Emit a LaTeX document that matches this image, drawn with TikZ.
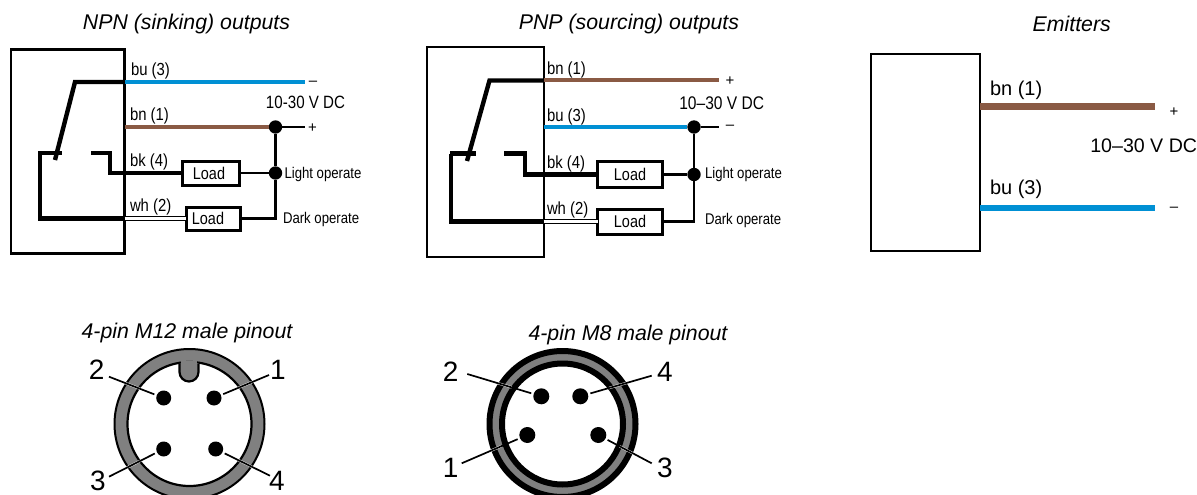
\documentclass[tikz,border=0pt]{standalone}
\usepackage{fontspec}
\usetikzlibrary{calc}
\setmainfont{Liberation Sans}
\newfontfamily\condfont{Liberation Sans}[FakeStretch=0.85]
\newcommand{\pxsize}[1]{\fontsize{#1}{#1}\selectfont}
\definecolor{wireblue}{HTML}{0090D4}
\definecolor{wirebrown}{HTML}{8A5A44}
\definecolor{ringgray}{HTML}{808080}
\tikzset{
  every node/.style={inner sep=0pt,outer sep=0pt},
  housing/.style={draw=black,line width=2.4pt,fill=none,anchor=north west},
  loadbox/.style={draw=black,line width=3pt,fill=white,font=\condfont\pxsize{17},minimum height=24pt},
  junction/.style={circle,fill=black,minimum size=13.4pt},
  pin/.style={circle,fill=black,minimum size=15pt},
  title/.style={font=\pxsize{21.3}\itshape},
  wirelabel/.style={font=\condfont\pxsize{17.5},anchor=west},
  smalllabel/.style={font=\condfont\pxsize{15.5},anchor=west},
  supply/.style={font=\condfont\pxsize{17.8}},
  sign/.style={font=\pxsize{15}},
  emlabel/.style={font=\pxsize{20},anchor=west},
  digit/.style={font=\pxsize{28}},
  blackwire/.style={draw=black,line width=4.4pt,line join=miter},
  thinwire/.style={draw=black,line width=2.2pt},
  bluewire/.style={draw=wireblue,line width=4pt},
  brownwire/.style={draw=wirebrown,line width=4pt},
  whitewire/.style={draw=black,double=white,line width=1pt,double distance=3.4pt},
  halo/.style={draw=white,line width=2.4pt,yshift=1.5pt},
  leader/.style={draw=black,line width=1.7pt},
}
\begin{document}
\begin{tikzpicture}[x=1pt,y=-1pt]
\useasboundingbox (0,0) rectangle (1197,495);
\clip (0,0) rectangle (1197,495);

%% NPN
\node[title] (t1) at (186.5,24) {NPN (sinking) outputs};
\node[housing,minimum width=113.5pt,minimum height=204pt] (b1) at (11,49.5) {};
\coordinate (a1) at (124.5,82);
\coordinate (a2) at (305,82);
\coordinate (a3) at (75,82);
\coordinate (a4) at (55,160);
\coordinate (a5) at (38,153);
\coordinate (a6) at (62,153);
\coordinate (a7) at (40,153);
\coordinate (a8) at (124.5,218.5);
\coordinate (a9) at (91,153);
\coordinate (a10) at (110,173);
\coordinate (a11) at (124.5,127);
\coordinate (a12) at (305,127);
\node[loadbox,minimum width=57.5pt] (l1) at (211,173) {\hspace*{-4pt}Load};
\node[loadbox,minimum width=54pt,minimum height=23pt] (l2) at (213,218.5) {\hspace*{-10pt}Load};
\node[junction] (j1) at (275.5,127) {};
\node[junction] (j2) at (275.5,173) {};
\draw[bluewire] (a1) -- (a2);
\draw[blackwire] (a4) -- (a3) -- (a1);
\draw[blackwire] (a5) -- (a6);
\draw[blackwire] (a7) |- (a8);
\draw[blackwire] (a9) -| (a10) -- (l1.west);
\draw[whitewire] (a8) -- (l2.west);
\draw[brownwire] (a11) -- (j1);
\draw[thinwire] (j1) -- (a12);
\draw[thinwire] (l1.east) -- (j2);
\draw[thinwire] (j1) -- (j2) |- (l2.east);
\node[wirelabel] (n1) at (131,71) {bu (3)};
\node[wirelabel] (n2) at (130,116) {bn (1)};
\node[wirelabel] (n3) at (130,162) {bk (4)};
\node[wirelabel] (n4) at (130,207) {wh (2)};
\node[sign] (n5) at (313,83) {–};
\node[sign] (n6) at (312.5,128) {+};
\node[supply] (n7) at (305.5,102) {10-30 V DC};
\node[smalllabel] (n8) at (284.5,174) {Light operate};
\node[smalllabel] (n9) at (283,219) {Dark operate};

%% PNP
\node[title] (t2) at (629,24) {PNP (sourcing) outputs};
\node[housing,minimum width=116.7pt,minimum height=210pt] (b2) at (427,47) {};
\coordinate (c1) at (543.7,80.5);
\coordinate (c2) at (719,80.5);
\coordinate (c3) at (489.5,80.5);
\coordinate (c4) at (467,161);
\coordinate (c5) at (450,153.5);
\coordinate (c6) at (475.5,153.5);
\coordinate (c7) at (451,153.5);
\coordinate (c8) at (543.7,221.5);
\coordinate (c9) at (504,153.5);
\coordinate (c10) at (525,174.5);
\coordinate (c11) at (543.7,127);
\coordinate (c12) at (719,127);
\node[loadbox,minimum width=65pt,minimum height=26pt] (l3) at (630,174.5) {Load};
\node[loadbox,minimum width=65pt,minimum height=25pt] (l4) at (630,221.5) {Load};
\node[junction] (j3) at (694,127) {};
\node[junction] (j4) at (694,174.5) {};
\draw[brownwire] (c1) -- (c2);
\draw[blackwire] (c4) -- (c3) -- (c1);
\draw[blackwire] (c5) -- (c6);
\draw[blackwire] (c7) |- (c8);
\draw[blackwire] (c9) -| (c10) -- (l3.west);
\draw[whitewire] (c8) -- (l4.west);
\draw[bluewire] (c11) -- (j3);
\draw[thinwire] (j3) -- (c12);
\draw[thinwire] (l3.east) -- (j4);
\draw[thinwire] (j3) -- (j4) |- (l4.east);
\node[wirelabel] (m1) at (547,70) {bn (1)};
\node[wirelabel] (m2) at (547,117) {bu (3)};
\node[wirelabel] (m3) at (547,164) {bk (4)};
\node[wirelabel] (m4) at (547,210) {wh (2)};
\node[sign] (m5) at (730,81) {+};
\node[sign] (m6) at (730,127.5) {–};
\node[supply,font=\condfont\pxsize{18.3}] (m7) at (721.7,103) {10–30 V DC};
\node[smalllabel] (m8) at (705,174) {Light operate};
\node[smalllabel] (m9) at (705,220) {Dark operate};

%% Emitters
\node[title] (t3) at (1071.7,24) {Emitters};
\node[housing,minimum width=109pt,minimum height=197pt] (b3) at (871,54) {};
\coordinate (e1) at (980,106.5);
\coordinate (e2) at (1155,106.5);
\coordinate (e3) at (980,208);
\coordinate (e4) at (1155,208);
\draw[draw=wirebrown,line width=6.5pt] (e1) -- (e2);
\draw[draw=wireblue,line width=6.5pt] (e3) -- (e4);
\node[emlabel] (p1) at (990,90) {bn (1)};
\node[emlabel] (p2) at (990,189) {bu (3)};
\node[sign] (p3) at (1174,112) {+};
\node[sign] (p4) at (1174,209) {–};
\node[font=\pxsize{19.6}] (p5) at (1143.7,146) {10–30 V DC};

%% M12
\node[title] (t4) at (187,333) {4-pin M12 male pinout};
\node[circle,draw=black,line width=2pt,fill=ringgray,minimum size=150pt] (r1) at (189.5,424) {};
\node[circle,draw=black,line width=2.2pt,fill=white,minimum size=124pt] (r2) at (189.5,424) {};
\draw[black,line width=2.2pt,fill=ringgray] (179.5,363.5) -- (179.5,372) arc[start angle=180,end angle=360,radius=9.5pt] -- (198.5,363.5);
\fill[ringgray] (180.6,361) rectangle (197.4,366);
\node[pin] (q2) at (163.7,398) {};
\node[pin] (q1) at (214,398) {};
\node[pin] (q3) at (163.7,449) {};
\node[pin] (q4) at (215.7,449) {};
\node[digit] (d2) at (96.7,370) {2};
\node[digit] (d1) at (278,370) {1};
\node[digit] (d3) at (98,480.5) {3};
\node[digit] (d4) at (277,480.5) {4};
\coordinate (k2) at (109,376.7);
\coordinate (k1) at (269,375);
\coordinate (k3) at (109,476.7);
\coordinate (k4) at (270,475.7);
\foreach \f/\t in {k2/q2,k1/q1,k3/q3,k4/q4}{
  \draw[halo] ($(\f)!0.25!(\t)$) -- ($(\f)!0.7!(\t)$);
  \draw[leader,shorten >=2.5pt] (\f) -- (\t);
}

%% M8
\node[title] (t5) at (628,335) {4-pin M8 male pinout};
\node[circle,draw=black,line width=6pt,fill=ringgray,minimum size=146pt] (s1) at (562.5,424) {};
\node[circle,draw=black,line width=6pt,fill=white,minimum size=121pt] (s2) at (562.5,424) {};
\node[pin,minimum size=16pt] (u2) at (541.3,396.3) {};
\node[pin,minimum size=16pt] (u4) at (580.3,396.3) {};
\node[pin,minimum size=16pt] (u1) at (527.3,435) {};
\node[pin,minimum size=16pt] (u3) at (598.3,435) {};
\node[digit] (f2) at (450.7,371.7) {2};
\node[digit] (f4) at (665,371.7) {4};
\node[digit] (f1) at (450.7,467.7) {1};
\node[digit] (f3) at (665,467.7) {3};
\coordinate (v2) at (467.3,374);
\coordinate (v4) at (651.7,375.7);
\coordinate (v1) at (461.7,463.3);
\coordinate (v3) at (651.7,463.3);
\foreach \f/\t in {v2/u2,v4/u4,v1/u1,v3/u3}{
  \draw[halo] ($(\f)!0.15!(\t)$) -- ($(\f)!0.6!(\t)$);
  \draw[leader,shorten >=2.5pt] (\f) -- (\t);
}
\end{tikzpicture}
\end{document}
